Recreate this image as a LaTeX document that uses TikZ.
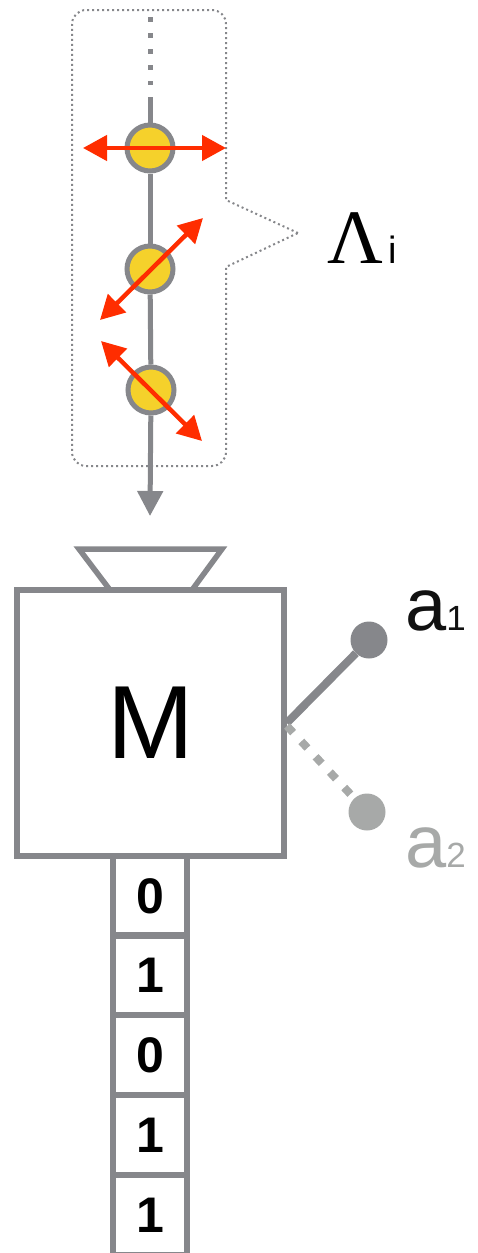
\documentclass[tikz,border=0pt]{standalone}
\usepackage{fontspec}
\newfontfamily\hv{Liberation Sans}
\newfontfamily\tms{Liberation Serif}
\usetikzlibrary{arrows.meta}
\definecolor{lgray}{HTML}{86878B}
\definecolor{pgray}{HTML}{A7A9A8}
\definecolor{beadyellow}{HTML}{F5D12B}
\definecolor{vred}{HTML}{FF2D00}
\definecolor{ink}{HTML}{111111}
\tikzset{
  chain/.style={draw=lgray, line width=5pt},
  bead/.style={circle, draw=lgray, fill=beadyellow, line width=5pt, minimum size=46pt, inner sep=0pt},
  pol/.style={draw=vred, line width=4.5pt, {Triangle[length=24pt,width=25pt]}-{Triangle[length=24pt,width=25pt]}},
  callout/.style={draw=lgray, line width=2pt, dash pattern=on 2pt off 3pt},
  frame/.style={draw=lgray, line width=5.5pt},
  ball/.style={circle, inner sep=0pt, minimum size=37pt},
  cell/.style={rectangle, draw=lgray, line width=5.5pt, minimum width=74pt, minimum height=80pt, inner sep=0pt, font=\hv\bfseries\fontsize{50}{50}\selectfont},
  lbl/.style={anchor=base west, inner sep=0pt}
}
\begin{document}
\begin{tikzpicture}[x=1pt,y=-1pt]
\useasboundingbox (0,0) rectangle (477,1253);
% callout box
\draw[callout] (298,233) -- (226,200) [rounded corners=14pt] -- (226,10) -- (72,10) -- (72,466) -- (226,466) [sharp corners] -- (226,267) -- cycle;
% chain
\coordinate (dtop) at (150,17);
\coordinate (dend) at (150,85);
\coordinate (stop) at (150,97);
\coordinate (tip) at (150,516);
\draw[draw=lgray, line width=5pt, dash pattern=on 5pt off 11pt] (dtop) -- (dend);
\node[bead] (b1) at (150,148) {};
\node[bead] (b2) at (150,269) {};
\node[bead] (b3) at (151,390) {};
\draw[chain] (stop) -- (b1);
\draw[chain] (b1) -- (b2);
\draw[chain] (b2) -- (b3);
\draw[chain, -{Triangle[length=25pt,width=25pt]}] (b3) -- (tip);
% polarisation arrows
\coordinate (p1a) at (83,148);
\coordinate (p1b) at (226,148);
\coordinate (p2a) at (100,320);
\coordinate (p2b) at (203,218);
\coordinate (p3a) at (101,341);
\coordinate (p3b) at (202,441);
\draw[pol] (p1a) -- (p1b);
\draw[pol] (p2a) -- (p2b);
\draw[pol] (p3a) -- (p3b);
% Lambda label
\node[lbl] (lam) at (327,263) {\tms\fontsize{77}{77}\selectfont Λ};
\node[lbl] (lami) at (388,263) {\hv\fontsize{38}{38}\selectfont i};
% measurement box
\draw[frame, line join=miter] (79,549) -- (222,549) -- (192,590) -- (110,590) -- cycle;
\node[rectangle, frame, minimum width=267pt, minimum height=266pt, inner sep=0pt, font=\hv\fontsize{104}{104}\selectfont, text=black] (M) at (150.5,723) {M};
% outcomes
\node[ball, fill=lgray] (a1) at (369,640) {};
\node[ball, fill=pgray] (a2) at (367,812) {};
\draw[draw=lgray, line width=8pt] (M.east) -- (a1);
\coordinate (m2) at (287,726);
\draw[draw=pgray, line width=8pt, dash pattern=on 9pt off 12pt] (m2) -- (a2);
\node[lbl, text=ink] (a1t) at (405,630) {\hv\fontsize{74}{74}\selectfont a\fontsize{35}{35}\selectfont 1};
\node[lbl, text=pgray] (a2t) at (405,867) {\hv\fontsize{74}{74}\selectfont a\fontsize{35}{35}\selectfont 2};
% tape
\node[cell] (c1) at (150,896) {0};
\node[cell] (c2) at (150,975) {1};
\node[cell] (c3) at (150,1055) {0};
\node[cell] (c4) at (150,1135) {1};
\node[cell] (c5) at (150,1215) {1};
\end{tikzpicture}
\end{document}
